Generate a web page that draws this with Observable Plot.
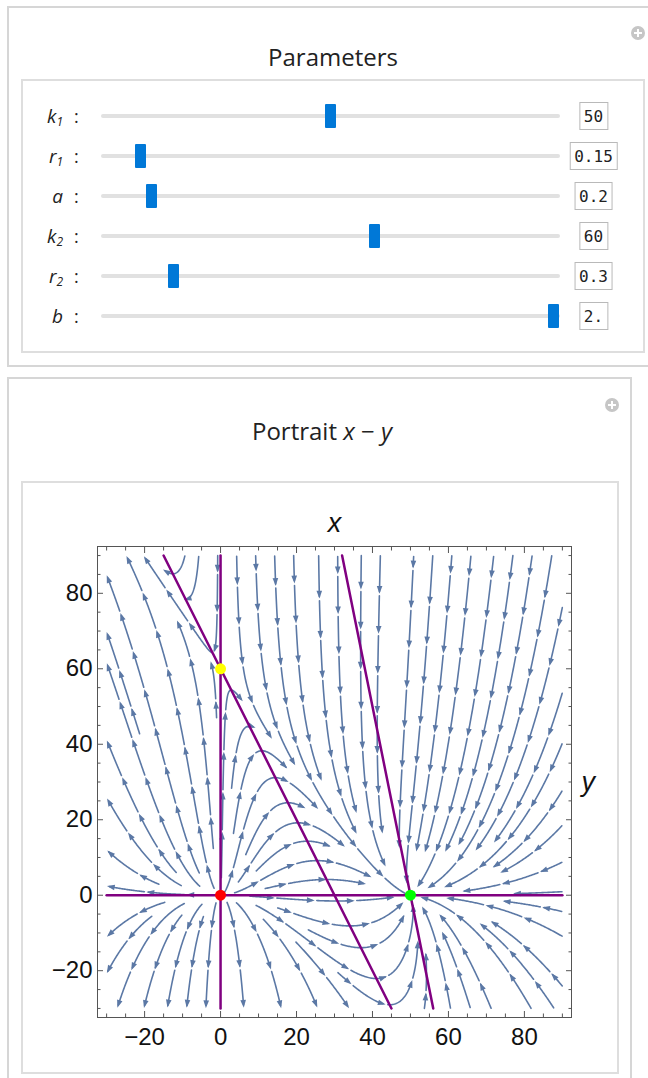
<!DOCTYPE html>
<html><head><meta charset="utf-8">
<script src="https://cdn.jsdelivr.net/npm/d3@7"></script>
<script src="https://cdn.jsdelivr.net/npm/@observablehq/plot@0.6"></script>
<style>
body{margin:0;width:648px;height:1078px;overflow:hidden;background:#fff;position:relative;font-family:"Open Sans",sans-serif;color:#222}
.box{position:absolute;box-sizing:border-box}
.outer{border:2px solid #d6d6d6}
.inner{border:2px solid #dedede}
.title{position:absolute;transform:translate(-50%,-50%);font-size:24px;white-space:nowrap;color:#222}
.plus{position:absolute;width:14px;height:14px;border-radius:50%;background:#c6c6c6;transform:translate(-50%,-50%)}
.plus:before{content:"";position:absolute;left:3px;top:6px;width:8px;height:2px;background:#fff}
.plus:after{content:"";position:absolute;left:6px;top:3px;width:2px;height:8px;background:#fff}
.lab{position:absolute;font-style:italic;font-size:19px;text-align:right;width:40px;transform:translateY(-50%);white-space:nowrap}
.lab sub{font-size:12px;vertical-align:-3px}
.colon{position:absolute;font-size:18px;transform:translateY(-50%)}
.track{position:absolute;height:4px;background:#e1e1e1;border-radius:2px}
.handle{position:absolute;width:11px;height:24px;background:#0078d7;border-radius:1px}
.val{position:absolute;transform:translate(-50%,-50%);border:1px solid #b9b9b9;font-family:"DejaVu Sans Mono",monospace;font-size:16px;padding:0 4px;height:28px;line-height:28px;box-sizing:border-box;background:#fff;color:#222}
#plot{position:absolute;left:21px;top:481px}
</style></head><body>
<div class="box outer" style="left:7px;top:6px;width:660px;height:361px"></div>
<div class="box inner" style="left:21px;top:79px;width:624px;height:274px"></div>
<div class="title" style="left:333px;top:56px">Parameters</div>
<div class="plus" style="left:638px;top:33px"></div>
<div id="sliders"></div>
<div class="box outer" style="left:7px;top:377px;width:625px;height:720px"></div>
<div class="box inner" style="left:21px;top:481px;width:598px;height:593px"></div>
<div class="title" style="left:322px;top:430px">Portrait <i>x</i> − <i>y</i></div>
<div class="plus" style="left:612px;top:405px"></div>
<div id="plot"></div>
<script>
// ---- data ----
const paramLetters = ["k", "r", "a", "k", "r", "b"];
const paramSubs = ["1", "1", "", "2", "2", ""];
const paramValues = [50, 0.15, 0.2, 60, 0.3, 2];
const paramText = ["50", "0.15", "0.2", "60", "0.3", "2."];
const paramMin = [0, 0, 0, 0, 0, 0];
const paramMax = [100, 2, 2, 100, 2, 2];
const majorTicks = [-20, 0, 20, 40, 60, 80];
const minorTicks = [-30, -25, -15, -10, -5, 5, 10, 15, 25, 30, 35, 45, 50, 55, 65, 70, 75, 85, 90];
const plotRange = [-30, 90];
const eqX = [0, 50, 0];
const eqY = [0, 0, 60];
const eqColor = ["#ff0000", "#00ff00", "#ffff00"];

// ---- sliders (HTML controls) ----
const sl = document.getElementById("sliders");
paramValues.forEach((v, i) => {
  const yc = 116 + 40 * i;
  const lab = document.createElement("div");
  lab.className = "lab"; lab.style.left = "23px"; lab.style.top = yc + "px";
  lab.innerHTML = paramLetters[i] + (paramSubs[i] ? "<sub>" + paramSubs[i] + "</sub>" : "");
  sl.appendChild(lab);
  const col = document.createElement("div");
  col.className = "colon"; col.style.left = "74px"; col.style.top = yc + "px"; col.textContent = ":";
  sl.appendChild(col);
  const tr = document.createElement("div");
  tr.className = "track"; tr.style.left = "101px"; tr.style.width = "459px"; tr.style.top = (yc - 2) + "px";
  sl.appendChild(tr);
  const h = document.createElement("div");
  const cx = 106.5 + (v - paramMin[i]) / (paramMax[i] - paramMin[i]) * 447;
  h.className = "handle"; h.style.left = (cx - 5.5) + "px"; h.style.top = (yc - 12) + "px";
  sl.appendChild(h);
  const bx = document.createElement("div");
  bx.className = "val"; bx.style.left = "593.5px"; bx.style.top = yc + "px"; bx.textContent = paramText[i];
  sl.appendChild(bx);
});

// ---- stream field ----
const [k1, r1, a, k2, r2, b] = paramValues;
const W = 474, H = 471;
const pad = (plotRange[1] - plotRange[0]) * 0.02;
const xd = [plotRange[0] - pad, plotRange[1] + pad], yd = [plotRange[0] - pad, plotRange[1] + pad];
const sx = W / (xd[1] - xd[0]), sy = H / (yd[1] - yd[0]);
const toData = (p) => [xd[0] + p[0] / sx, yd[1] - p[1] / sy];
function vel(px, py) {
  const x = xd[0] + px / sx, y = yd[1] - py / sy;
  const u = r1 * x * (1 - (x + a * y) / k1);
  const v = r2 * y * (1 - (y + b * x) / k2);
  return [u * sx, -v * sy];
}
function dir(px, py, s) {
  const [u, v] = vel(px, py); const m = Math.hypot(u, v);
  if (m < 1e-9) return null; return [s * u / m, s * v / m];
}
const pxMin = (plotRange[0] - xd[0]) * sx, pxMax = (plotRange[1] - xd[0]) * sx;
const pyMin = (yd[1] - plotRange[1]) * sy, pyMax = (yd[1] - plotRange[0]) * sy;
const inB = (p) => p[0] >= pxMin && p[0] <= pxMax && p[1] >= pyMin && p[1] <= pyMax;
const dsep = 19, dtest = 0.45 * dsep, step = 1;
const cell = dsep, gw = Math.ceil(W / cell) + 2, gh = Math.ceil(H / cell) + 2;
const grid = Array.from({length: gw * gh}, () => []);
function addPt(p) { const gx = Math.floor(p[0] / cell), gy = Math.floor(p[1] / cell); grid[gy * gw + gx].push(p); }
function free(px, py, d) {
  const gx = Math.floor(px / cell), gy = Math.floor(py / cell), rr = Math.ceil(d / cell);
  for (let j = gy - rr; j <= gy + rr; j++) {
    if (j < 0 || j >= gh) continue;
    for (let i = gx - rr; i <= gx + rr; i++) {
      if (i < 0 || i >= gw) continue;
      for (const q of grid[j * gw + i]) if ((q[0] - px) ** 2 + (q[1] - py) ** 2 < d * d) return false;
    }
  }
  return true;
}
function trace(seed, s) {
  const pts = []; let p = seed;
  for (let n = 0; n < 3000; n++) {
    const d1 = dir(p[0], p[1], s); if (!d1) break;
    const m = [p[0] + 0.5 * step * d1[0], p[1] + 0.5 * step * d1[1]];
    const d2 = dir(m[0], m[1], s); if (!d2) break;
    const q = [p[0] + step * d2[0], p[1] + step * d2[1]];
    if (!inB(q) || !free(q[0], q[1], dtest)) break;
    if (pts.length > 12) { const o = pts[pts.length - 12]; if (Math.hypot(q[0] - o[0], q[1] - o[1]) < 4) break; }
    pts.push(q); p = q;
  }
  return pts;
}
const lines = [];
function tryLine(seed) {
  if (!inB(seed) || !free(seed[0], seed[1], dsep)) return null;
  const back = trace(seed, -1), fwd = trace(seed, 1);
  const pts = back.reverse().concat([seed], fwd);
  if (pts.length < 12) return null;
  lines.push(pts); pts.forEach(addPt);
  return pts;
}
function grow(first) {
  const queue = [first];
  while (queue.length) {
    const L = queue.shift();
    for (let i = 1; i < L.length - 1; i += 2) {
      const dx = L[i + 1][0] - L[i - 1][0], dy = L[i + 1][1] - L[i - 1][1];
      const m = Math.hypot(dx, dy) || 1, nx = -dy / m, ny = dx / m;
      for (const s of [1, -1]) {
        const nl = tryLine([L[i][0] + s * dsep * nx, L[i][1] + s * dsep * ny]);
        if (nl) queue.push(nl);
      }
    }
  }
}
{
  const f = tryLine([(20 - xd[0]) * sx, (yd[1] - 40) * sy]);
  if (f) grow(f);
  for (let py = pyMin + 3; py < pyMax; py += dsep / 2)
    for (let px = pxMin + 3; px < pxMax; px += dsep / 2) {
      const nl = tryLine([px, py]); if (nl) grow(nl);
    }
}
// split into segments + arrowheads
const segs = [], arrows = [];
const spacing = 40, gap = 2.5, ahR = 3.9;
let segId = 0;
lines.forEach(pts => {
  const cum = [0];
  for (let i = 1; i < pts.length; i++) cum.push(cum[i - 1] + Math.hypot(pts[i][0] - pts[i - 1][0], pts[i][1] - pts[i - 1][1]));
  const total = cum[cum.length - 1];
  const marks = [];
  for (let s = total - 1; s > 10; s -= spacing) marks.unshift(s);
  const idx = (s) => Math.max(0, Math.min(pts.length - 1, d3.bisectLeft(cum, s)));
  let start = 0;
  const pushSeg = (s0, s1) => {
    const i0 = idx(s0), i1 = idx(s1);
    if (i1 - i0 < 1) return;
    for (let i = i0; i <= i1; i++) { const [x, y] = toData(pts[i]); segs.push({seg: segId, x, y}); }
    segId++;
  };
  marks.forEach(s => {
    pushSeg(start, s - 2);
    const c = pts[idx(s - ahR * 0.9)], p0 = pts[idx(s - 5)], p1 = pts[idx(s)];
    const ang = Math.atan2(p1[0] - p0[0], -(p1[1] - p0[1])) * 180 / Math.PI;
    const [x, y] = toData(c);
    arrows.push({x, y, angle: ang});
    start = s + gap;
  });
  if (start < total - 1) pushSeg(start, total);
});

const arrowSymbol = {draw(ctx, size) { const l = Math.sqrt(size / Math.PI); ctx.moveTo(0, -l); ctx.lineTo(0.72 * l, l); ctx.lineTo(-0.72 * l, l); ctx.closePath(); }};

// nullclines
const nullAxes = [
  {id: "x0", pts: [{x: 0, y: plotRange[0]}, {x: 0, y: plotRange[1]}]},
  {id: "y0", pts: [{x: plotRange[0], y: 0}, {x: plotRange[1], y: 0}]},
  {id: "n1", pts: plotRange.map(y => ({x: k1 - a * y, y}))},
  {id: "n2", pts: plotRange.map(y => ({x: (k2 - y) / b, y}))}
].flatMap(d => d.pts.map(p => ({...p, id: d.id})));
const eqs = eqX.map((x, i) => ({x, y: eqY[i], c: eqColor[i]}));

const streamColor = "#5b78a5";
const axisColor = "#555";
const chart = Plot.plot({
  width: 598, height: 590,
  marginLeft: 76, marginRight: 48, marginTop: 65, marginBottom: 54,
  x: {domain: xd, label: null},
  y: {domain: yd, label: null},
  style: {fontFamily: "'Liberation Sans', Arial, sans-serif", fontSize: "24px", color: "#111", background: "transparent", overflow: "visible"},
  marks: [
    Plot.line(segs, {x: "x", y: "y", z: "seg", stroke: streamColor, strokeWidth: 1.6}),
    Plot.dot(arrows, {x: "x", y: "y", rotate: "angle", symbol: arrowSymbol, r: ahR, fill: streamColor, stroke: null}),
    Plot.line(nullAxes, {x: "x", y: "y", z: "id", stroke: "#800080", strokeWidth: 2.5}),
    Plot.dot(eqs, {x: "x", y: "y", fill: "c", r: 5.5, stroke: null}),
    Plot.frame({stroke: axisColor}),
    Plot.axisX(majorTicks, {anchor: "bottom", tickSize: -6, tickPadding: 16, fontSize: 24, stroke: axisColor, fill: "#111", label: null}),
    Plot.axisX(minorTicks, {anchor: "bottom", tickSize: -3.5, tickFormat: () => "", stroke: axisColor, label: null}),
    Plot.axisX(majorTicks, {anchor: "top", tickSize: -6, tickFormat: () => "", stroke: axisColor, label: null}),
    Plot.axisX(minorTicks, {anchor: "top", tickSize: -3.5, tickFormat: () => "", stroke: axisColor, label: null}),
    Plot.axisY(majorTicks, {anchor: "left", tickSize: -6, tickPadding: 11, fontSize: 24, stroke: axisColor, fill: "#111", label: null}),
    Plot.axisY(minorTicks, {anchor: "left", tickSize: -3.5, tickFormat: () => "", stroke: axisColor, label: null}),
    Plot.axisY(majorTicks, {anchor: "right", tickSize: -6, tickFormat: () => "", stroke: axisColor, label: null}),
    Plot.axisY(minorTicks, {anchor: "right", tickSize: -3.5, tickFormat: () => "", stroke: axisColor, label: null}),
    Plot.text(["x"], {frameAnchor: "top", lineAnchor: "middle", dy: -23, fontSize: 27, fontStyle: "italic", fill: "#111"}),
    Plot.text(["y"], {frameAnchor: "right", lineAnchor: "middle", dx: 10, textAnchor: "start", fontSize: 27, fontStyle: "italic", fill: "#111"})
  ]
});
document.getElementById("plot").appendChild(chart);
</script>
</body></html>
